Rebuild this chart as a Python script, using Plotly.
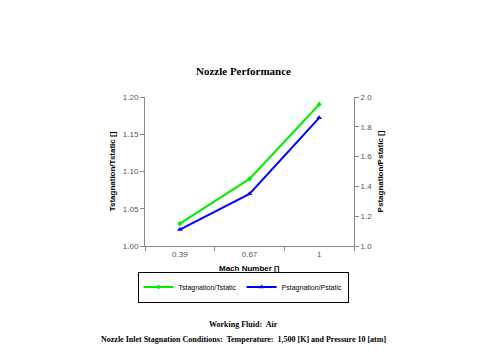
import plotly.graph_objects as go

mach = ["0.39", "0.67", "1"]
t_ratio = [1.03, 1.09, 1.19]
p_ratio = [1.11, 1.35, 1.86]

fig = go.Figure()
fig.add_trace(go.Scatter(x=mach, y=t_ratio, name="Tstagnation/Tstatic", mode="lines+markers",
                         line=dict(color="#00ee00", width=2),
                         marker=dict(symbol="diamond", size=4, color="#00ee00")))
fig.add_trace(go.Scatter(x=mach, y=p_ratio, name="Pstagnation/Pstatic", mode="lines+markers",
                         yaxis="y2",
                         line=dict(color="#0000ff", width=2),
                         marker=dict(symbol="triangle-up", size=5, color="#0000ff")))

axfont = dict(family="Liberation Sans, Arial", size=8, color="#555555")
titlefont = dict(family="Liberation Sans, Arial", size=8, color="#000000")

fig.update_layout(
    width=480, height=360,
    paper_bgcolor="white", plot_bgcolor="white",
    margin=dict(l=145, r=126, t=97, b=114, autoexpand=False),
    showlegend=True,
    legend=dict(orientation="h", xref="container", yref="container",
                x=243 / 480, y=1 - 287 / 360, xanchor="center", yanchor="middle",
                bordercolor="#000000", borderwidth=1, bgcolor="white",
                font=dict(family="Liberation Sans, Arial", size=7, color="#000000"),
                itemwidth=30, tracegroupgap=0),
    xaxis=dict(type="category", range=[-0.5, 2.5], tickson="boundaries", ticks="outside", ticklen=4,
               tickcolor="#888888", showline=True, linecolor="#888888", linewidth=1,
               showgrid=False, zeroline=False, tickfont=axfont),
    yaxis=dict(range=[1.0, 1.2], dtick=0.05, tickformat=".2f", ticks="outside", ticklen=4,
               tickcolor="#888888", showline=True, linecolor="#888888", linewidth=1,
               showgrid=False, zeroline=False, tickfont=axfont,
               title=dict(text="<b>Tstagnation/Tstatic []</b>", font=titlefont, standoff=6)),
    yaxis2=dict(range=[1.0, 2.0], dtick=0.2, tickformat=".1f", overlaying="y", side="right",
                ticks="outside", ticklen=4, tickcolor="#888888", showline=True,
                linecolor="#888888", linewidth=1, showgrid=False, zeroline=False,
                tickfont=axfont,
                title=dict(text="<b>Pstagnation/Pstatic []</b>", font=titlefont, standoff=6)),
)

fig.add_annotation(text="<b>Mach Number []</b>", xref="paper", yref="paper",
                   x=0.5, y=(246 - 268) / 149, showarrow=False, xanchor="center", yanchor="middle",
                   font=titlefont)
fig.add_annotation(text="<b>Nozzle Performance</b>", xref="paper", yref="paper",
                   x=0.47, y=(246 - 71) / 149, showarrow=False, xanchor="center", yanchor="middle",
                   font=dict(family="Liberation Serif, Times New Roman", size=11, color="#000000"))
fig.add_annotation(text="<b>Working Fluid:  Air</b>", xref="paper", yref="paper",
                   x=(243 - 145) / 209, y=(246 - 324) / 149, showarrow=False,
                   xanchor="center", yanchor="middle",
                   font=dict(family="Liberation Serif, Times New Roman", size=8, color="#000000"))
fig.add_annotation(text="<b>Nozzle Inlet Stagnation Conditions:  Temperature:  1,500 [K] and Pressure 10 [atm]</b>",
                   xref="paper", yref="paper",
                   x=(243 - 145) / 209, y=(246 - 339) / 149, showarrow=False,
                   xanchor="center", yanchor="middle",
                   font=dict(family="Liberation Serif, Times New Roman", size=8, color="#000000"))

fig.write_html("out.html")
